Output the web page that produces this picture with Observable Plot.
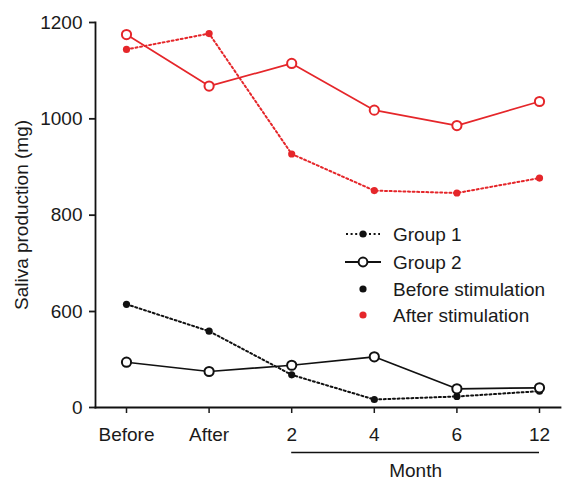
<!DOCTYPE html>
<html><head><meta charset="utf-8">
<script src="https://cdn.jsdelivr.net/npm/d3@7"></script>
<script src="https://cdn.jsdelivr.net/npm/@observablehq/plot@0.6"></script>
<style>
body{margin:0;background:#fff;font-family:"Liberation Sans",Arial,sans-serif;}
#wrap{position:relative;width:563px;height:482px;}
#legend{position:absolute;left:0;top:0;pointer-events:none;}
</style></head><body><div id="wrap"></div>
<script>
// Categories (x)
const labels = ["Before", "After", "2", "4", "6", "12"];
// Group 1 (dotted, filled dots)
const g1Before = [615, 477, 204, 50, 69, 102];
const g1After  = [1144, 1177, 927, 851, 846, 877];
// Group 2 (solid, open circles)
const g2Before = [283, 225, 264, 317, 117, 123];
const g2After  = [1175, 1068, 1115, 1018, 986, 1036];
// Y ticks (broken axis: 0, then 600..1200)
const yTicks = [0, 600, 800, 1000, 1200];
const legendItems = ["Group 1", "Group 2", "Before stimulation", "After stimulation"];

const red = "#e5262a", black = "#111111";
const FS = 19;
const toRows = arr => arr.map((v, i) => ({i, v}));

const lineMark = (arr, color, dotted) => Plot.line(toRows(arr), {
  x: "i", y: "v", stroke: color,
  strokeWidth: dotted ? 2 : 1.7,
  strokeDasharray: dotted ? "2,2.6" : null
});
const filled = (arr, color) => Plot.dot(toRows(arr), {x: "i", y: "v", r: 3.6, fill: color, stroke: "none"});
const open = (arr, color) => Plot.dot(toRows(arr), {x: "i", y: "v", r: 4.6, fill: "white", stroke: color, strokeWidth: 2});

const plot = Plot.plot({
  width: 563, height: 482,
  marginLeft: 95, marginRight: 3, marginTop: 22, marginBottom: 75,
  style: {fontFamily: "'Liberation Sans', Arial, sans-serif", fontSize: FS + "px", color: "#1a1a1a", background: "#fff"},
  x: {type: "linear", domain: [0, 5], range: [126, 539]},
  y: {type: "linear", domain: [0, 600, 1200], range: [407, 311, 22]},
  marks: [
    Plot.frame({anchor: "left", strokeWidth: 1.8, stroke: "#111"}),
    Plot.frame({anchor: "bottom", strokeWidth: 1.8, stroke: "#111"}),
    Plot.axisY({ticks: yTicks, tickFormat: d3.format("d"), tickSize: 6, tickPadding: 7, fontSize: FS, strokeWidth: 1.8,
      label: "Saliva production (mg)", labelAnchor: "center", labelOffset: 81, labelArrow: "none"}),
    Plot.axisX({ticks: labels.map((d, i) => i), tickFormat: i => labels[i], tickSize: 6, tickPadding: 14,
      fontSize: FS, strokeWidth: 1.5, label: null}),
    Plot.ruleY([0], {x1: 2, x2: 5, dy: 45, stroke: "#111", strokeWidth: 1.5}),
    Plot.text(["Month"], {x: () => 3.5, y: () => 0, dy: 63, fontSize: FS, fill: "#1a1a1a"}),
    lineMark(g1After, red, true),
    lineMark(g2After, red, false),
    lineMark(g1Before, black, true),
    lineMark(g2Before, black, false),
    filled(g1After, red),
    open(g2After, red),
    filled(g1Before, black),
    open(g2Before, black)
  ]
});
const wrap = document.getElementById("wrap");
wrap.appendChild(plot);

// Legend overlay
const lg = d3.select(wrap).append("svg").attr("id", "legend").attr("width", 563).attr("height", 482);
const rowsY = [234, 262, 289, 315];
legendItems.forEach((name, k) => {
  const g = lg.append("g").attr("transform", `translate(0,${rowsY[k]})`);
  if (k === 0) {
    g.append("line").attr("x1", 346).attr("x2", 380).attr("stroke", black).attr("stroke-width", 2).attr("stroke-dasharray", "2,2.6");
    g.append("circle").attr("cx", 363).attr("r", 3.6).attr("fill", black);
  } else if (k === 1) {
    g.append("line").attr("x1", 345).attr("x2", 381).attr("stroke", black).attr("stroke-width", 2);
    g.append("circle").attr("cx", 363).attr("r", 4.4).attr("fill", "white").attr("stroke", black).attr("stroke-width", 2);
  } else {
    g.append("circle").attr("cx", 363).attr("r", 3.6).attr("fill", k === 2 ? black : red);
  }
  g.append("text").attr("x", 393).attr("dy", "0.35em").attr("font-size", FS)
    .attr("font-family", "'Liberation Sans', Arial, sans-serif").attr("fill", "#1a1a1a").text(name);
});
</script></body></html>
